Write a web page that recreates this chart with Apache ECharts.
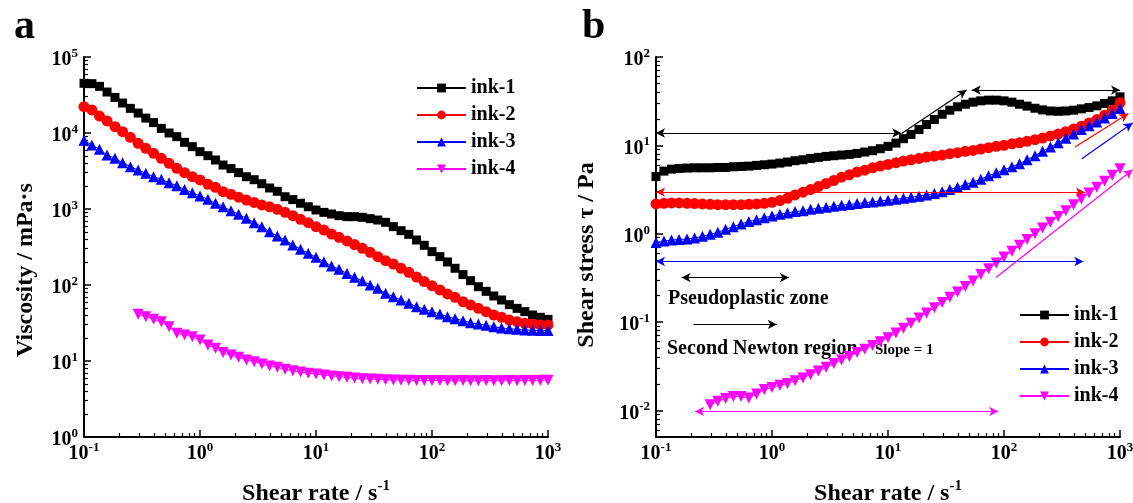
<!DOCTYPE html>
<html><head><meta charset="utf-8">
<script src="https://cdn.jsdelivr.net/npm/echarts@6/dist/echarts.min.js"></script>
<style>html,body{margin:0;padding:0;background:#fff}#c{width:1133px;height:503px}</style>
</head><body><div id="c"></div>
<script>
// ---- data ----
const shearRate = [0.1,0.117,0.136,0.158,0.185,0.215,0.251,0.293,0.341,0.398,0.464,0.541,0.631,0.736,0.858,
  1,1.17,1.36,1.58,1.85,2.15,2.51,2.93,3.41,3.98,4.64,5.41,6.31,7.36,8.58,
  10,11.7,13.6,15.8,18.5,21.5,25.1,29.3,34.1,39.8,46.4,54.1,63.1,73.6,85.8,
  100,117,136,158,185,215,251,293,341,398,464,541,631,736,858,1000];

const viscInk1 = [45100,44600,41100,34600,29400,24800,21100,18300,15700,13700,11500,10000,8950,7540,6610,
  5680,5030,4410,3790,3400,3010,2660,2430,2150,1890,1710,1450,1330,1190,1070,
  970,903,860,817,793,793,777,746,716,668,586,519,464,391,333,
  275,236,201,166,137,114,95,82.5,71.7,63.5,55.1,49.3,44.6,40.3,37.6,35.3];
const viscInk2 = [22200,20100,16700,14400,12100,10400,8770,7310,6280,5400,4640,3990,3430,3010,2660,
  2410,2110,1930,1690,1560,1430,1310,1220,1130,1070,990,903,817,731,661,
  586,529,469,424,380,340,304,269,236,209,189,166,147,127,111,
  98,86,76.2,68.9,60.4,54.6,49.3,44.6,40.3,37.6,34.6,32.9,31.3,30.7,29.8,29.8];
const viscInk3 = [8000,6950,6100,5130,4640,4070,3610,3260,2950,2660,2460,2220,2030,1810,1640,
  1480,1340,1190,1070,951,851,754,661,586,503,441,391,336,295,261,
  231,203,178,161,142,126,114,100,90.4,77.6,70.2,63.5,57.4,51.9,47.9,
  44.6,41.5,38.3,36.1,33.9,31.9,30.7,29.5,28.3,27.2,26.6,26.1,25.6,25.4,25.1,25.1];
const viscInk4 = [null,null,null,null,null,null,null,41.1,38.3,35.3,32.9,28.3,23.1,22.0,20.9,
  18.9,16.2,14.7,12.9,12.0,11.2,10.3,9.8,9.13,8.6,8.26,7.77,7.46,7.17,6.88,
  6.75,6.54,6.35,6.22,6.1,5.98,5.85,5.8,5.74,5.68,5.62,5.6,5.58,5.55,5.55,
  5.53,5.52,5.5,5.5,5.52,5.5,5.5,5.52,5.5,5.5,5.52,5.5,5.55,5.55,5.6,5.6];

const stressInk1 = [4.44,5.11,5.38,5.48,5.53,5.57,5.57,5.57,5.62,5.62,5.72,5.77,5.82,5.93,6.03,
  6.14,6.30,6.47,6.70,6.87,7.11,7.31,7.50,7.63,7.77,7.90,8.11,8.40,8.70,9.16,
  9.74,10.6,11.9,13.3,15.1,17.2,19.6,22.5,25.0,27.3,29.2,30.8,31.9,32.5,32.5,
  31.9,30.8,29.2,27.8,26.3,25.2,24.5,24.3,24.5,25.0,25.9,26.8,28.0,29.8,31.9,35.4];
const stressInk2 = [2.17,2.21,2.23,2.23,2.21,2.19,2.17,2.15,2.13,2.13,2.13,2.13,2.15,2.17,2.21,
  2.27,2.37,2.52,2.75,2.95,3.16,3.42,3.70,4.00,4.36,4.64,4.98,5.24,5.57,5.82,
  6.08,6.35,6.64,6.87,7.11,7.37,7.56,7.77,8.04,8.26,8.55,8.77,9.08,9.41,9.74,
  10.0,10.4,10.7,11.1,11.6,12.1,12.8,13.4,14.3,15.3,16.4,17.9,19.6,21.9,25.0,30.3];
const stressInk3 = [0.797,0.825,0.847,0.862,0.870,0.893,0.933,0.983,1.04,1.12,1.20,1.29,1.37,1.44,1.52,
  1.59,1.66,1.72,1.78,1.82,1.89,1.94,1.99,2.05,2.10,2.14,2.19,2.25,2.29,2.35,
  2.39,2.45,2.52,2.59,2.66,2.75,2.85,2.98,3.16,3.36,3.60,3.83,4.14,4.52,4.89,
  5.29,5.72,6.19,6.87,7.63,8.55,9.57,10.7,12.0,13.4,15.1,16.7,18.4,20.4,22.9,26.1];
const stressInk4 = [null,null,null,null,null,null,null,0.0116,0.0127,0.0136,0.0144,0.0144,0.0138,0.0153,0.0172,
  0.0182,0.0192,0.0201,0.0217,0.0233,0.0254,0.0280,0.0308,0.0339,0.0373,0.0407,0.0452,0.0493,0.0543,0.0598,
  0.0664,0.075,0.085,0.097,0.111,0.127,0.145,0.166,0.191,0.219,0.252,0.292,0.345,0.40,0.465,
  0.545,0.635,0.74,0.86,1.0,1.16,1.35,1.57,1.82,2.12,2.47,2.88,3.36,3.92,4.6,5.43];

const seriesNames = ['ink-1','ink-2','ink-3','ink-4'];
const seriesColors = ['#000000','#ff0000','#0000ff','#ff00ff'];
const seriesSymbols = ['rect','circle','triangle','path://M0,0L10,0L5,9Z'];
const seriesSymbolSizes = [9,11,11,11];

const xTickValues = [0.1,1,10,100,1000];
const viscTickValues = [1,10,100,1000,10000,100000];
const stressTickValues = [0.01,0.1,1,10,100];

// annotation lines in the right panel (data coordinates) [x1,y1,x2,y2,color,startHead,endHead]
const guideLines = [
  [0.1,13.8,13,13.8,'#000000',true,true],
  [13.1,13.6,47.6,42.2,'#000000',false,true],
  [52.7,42.2,1000,42.2,'#000000',true,true],
  [0.1,2.95,499,2.95,'#ff0000',true,true],
  [0.1,0.485,483,0.485,'#0000ff',true,true],
  [0.166,0.319,1.40,0.319,'#000000',true,true],
  [0.21,0.094,1.10,0.094,'#000000',false,true],
  [0.217,0.00975,89.3,0.00975,'#ff00ff',true,true]
];
const slopeLines = [
  [409,9.57,1180,22.9,'#ff0000',false,true],
  [468,7.06,1285,17.9,'#0000ff',false,true],
  [85.3,0.319,1285,5.3,'#ff00ff',false,true]
];

const F = '"Liberation Serif","Times New Roman",serif';

function minorTicks(lo, hi) {
  const out = [];
  for (let d = Math.floor(Math.log10(lo)); d < Math.ceil(Math.log10(hi)); d++) {
    for (let m = 2; m <= 9; m++) {
      const v = +(m * Math.pow(10, d)).toPrecision(6);
      if (v >= lo && v <= hi) out.push(v);
    }
  }
  return out;
}
const pow10Label = v => '{b|10}{s|' + Math.round(Math.log10(v)) + '}';
const labelRich = {
  b: {fontSize: 20, fontWeight: 'bold', fontFamily: F, color: '#000', lineHeight: 26},
  s: {fontSize: 13, fontWeight: 'bold', fontFamily: F, color: '#000', verticalAlign: 'top', lineHeight: 13}
};
const axisLineStyle = {show: true, lineStyle: {color: '#000', width: 2}};

function majorAxis(gridIndex, min, max, ticks, isX, extra) {
  return Object.assign({
    gridIndex, type: 'log', logBase: 10, min, max,
    position: isX ? 'bottom' : 'left',
    axisLine: axisLineStyle,
    splitLine: {show: false},
    axisTick: {show: true, inside: true, length: 7, customValues: ticks, lineStyle: {color: '#000', width: 1.5}},
    axisLabel: {show: true, customValues: ticks, formatter: pow10Label, rich: labelRich, margin: isX ? 4 : 6,
      padding: isX ? 0 : [6, 0, 0, 0]}
  }, extra || {});
}
function minorAxis(gridIndex, min, max, isX) {
  return {
    gridIndex, type: 'log', logBase: 10, min, max,
    position: isX ? 'bottom' : 'left',
    axisLine: {show: false},
    splitLine: {show: false},
    axisLabel: {show: false},
    axisTick: {show: true, inside: true, length: 4, customValues: minorTicks(min, max), lineStyle: {color: '#000', width: 1.2}}
  };
}

const xName = {
  name: '{t|Shear rate / s}{s|-1}', nameLocation: 'middle', nameGap: 42,
  nameTextStyle: {rich: {
    t: {fontSize: 24, fontWeight: 'bold', fontFamily: F, color: '#000', lineHeight: 30},
    s: {fontSize: 15, fontWeight: 'bold', fontFamily: F, color: '#000', verticalAlign: 'top', lineHeight: 15}
  }}
};

const xAxis = [
  majorAxis(0, 0.1, 1000, xTickValues, true, xName),
  minorAxis(0, 0.1, 1000, true),
  majorAxis(1, 0.1, 1000, xTickValues, true, xName),
  minorAxis(1, 0.1, 1000, true),
  {gridIndex: 2, type: 'log', min: 0.1, max: 1294, show: false}
];
const yAxis = [
  majorAxis(0, 1, 100000, viscTickValues, false, {
    name: 'Viscosity / mPa·s', nameLocation: 'middle', nameGap: 46,
    nameTextStyle: {fontSize: 24, fontWeight: 'bold', fontFamily: F, color: '#000', padding: [0, 46, 0, 0]}
  }),
  minorAxis(0, 1, 100000, false),
  majorAxis(1, 0.005, 100, stressTickValues, false, {
    name: 'Shear stress τ / Pa', nameLocation: 'middle', nameGap: 57,
    nameTextStyle: {fontSize: 24, fontWeight: 'bold', fontFamily: F, color: '#000', padding: [0, 16, 0, 0]}
  }),
  minorAxis(1, 0.005, 100, false),
  {gridIndex: 2, type: 'log', min: 0.005, max: 100, show: false}
];

function pairs(values) {
  const out = [];
  values.forEach((v, i) => { if (v !== null) out.push([shearRate[i], v]); });
  return out;
}
function makeSeries(i, values, axisIdx) {
  return {
    type: 'line', name: seriesNames[i], xAxisIndex: axisIdx, yAxisIndex: axisIdx,
    data: pairs(values), symbol: seriesSymbols[i], symbolSize: seriesSymbolSizes[i],
    showAllSymbol: true,
    itemStyle: {color: seriesColors[i]}, lineStyle: {color: seriesColors[i], width: 1},
    emphasis: {disabled: true}, silent: true
  };
}
function markLineItems(list) {
  return list.map(l => {
    const ls = {color: l[4], width: 1.2, type: 'solid'};
    return [
      {coord: [l[0], l[1]], symbol: l[5] ? 'arrow' : 'none', lineStyle: ls},
      {coord: [l[2], l[3]], symbol: l[6] ? 'arrow' : 'none', lineStyle: ls}
    ];
  });
}
const markLineBase = {
  silent: true, animation: false, symbolSize: [7, 9], label: {show: false},
  lineStyle: {type: 'solid', width: 1.2}, emphasis: {disabled: true}
};

const viscSets = [viscInk1, viscInk2, viscInk3, viscInk4];
const stressSets = [stressInk1, stressInk2, stressInk3, stressInk4];
const series = [];
viscSets.forEach((v, i) => series.push(makeSeries(i, v, 0)));
stressSets.forEach((v, i) => series.push(makeSeries(i, v, 2)));
series[7].markLine = Object.assign({}, markLineBase, {data: markLineItems(guideLines)});
series.push({
  type: 'line', name: 'guides', xAxisIndex: 4, yAxisIndex: 4, data: [], silent: true, clip: false,
  markLine: Object.assign({}, markLineBase, {data: markLineItems(slopeLines)})
});

const legendBase = {
  data: seriesNames, orient: 'vertical', itemWidth: 49, itemHeight: 11, itemGap: 7,
  selectedMode: false,
  textStyle: {fontSize: 20, fontWeight: 'bold', fontFamily: F, color: '#000', lineHeight: 19}
};

const chart = echarts.init(document.getElementById('c'), null, {renderer: 'canvas'});
chart.setOption({
  animation: false,
  backgroundColor: '#fff',
  grid: [
    {left: 84, right: 585, top: 57, bottom: 66, outerBoundsMode: 'none', containLabel: false},
    {left: 656, right: 13, top: 57, bottom: 66, outerBoundsMode: 'none', containLabel: false},
    {left: 656, right: 0, top: 57, bottom: 66, show: false, outerBoundsMode: 'none', containLabel: false}
  ],
  xAxis, yAxis, series,
  legend: [
    Object.assign({}, legendBase, {left: 411, top: 73}),
    Object.assign({}, legendBase, {left: 1014, top: 300})
  ],
  graphic: [
    {type: 'text', left: 14, top: 6, style: {text: 'a', font: 'bold 42px ' + F, fill: '#000'}},
    {type: 'text', left: 582, top: 6, style: {text: 'b', font: 'bold 42px ' + F, fill: '#000'}},
    {type: 'text', left: 668, top: 289, style: {text: 'Pseudoplastic zone', font: 'bold 20px ' + F, fill: '#000'}},
    {type: 'text', left: 667, top: 339, style: {text: 'Second Newton region', font: 'bold 20px ' + F, fill: '#000'}},
    {type: 'text', left: 875, top: 343, style: {text: 'Slope = 1', font: 'bold 15px ' + F, fill: '#000'}}
  ]
});
</script>
</body></html>
